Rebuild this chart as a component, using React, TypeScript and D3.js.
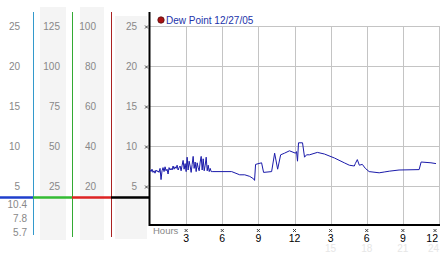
import React from "react";
import * as d3 from "d3";

const W = 442;
const H = 253;

const yTicks = [25, 20, 15, 10, 5];
const col1Labels = ["25", "20", "15", "10", "5"];
const col2Labels = ["125", "100", "75", "50", "25"];
const col3Labels = ["100", "80", "60", "40", "20"];
const col4Labels = ["25", "20", "15", "10", "5"];
const lowLabels = ["10.4", "7.8", "5.7"];

const xTickHours = [3, 6, 9, 12, 15, 18, 21, 24];
const xTickLabels = ["3", "6", "9", "12", "3", "6", "9", "12"];
const faintHours = [15, 18, 21, 24];
const faintLabels = ["15", "18", "21", "24"];

const seriesName = "Dew Point 12/27/05";

const dewMinutes = [
  0, 5, 10, 15, 20, 25, 30, 35, 40, 45,
  50, 55, 60, 65, 70, 75, 80, 85, 90, 95,
  100, 105, 110, 115, 120, 125, 130, 135, 140, 145,
  150, 155, 160, 165, 170, 175, 180, 185, 190, 195,
  200, 205, 210, 215, 220, 225, 230, 235, 240, 245,
  250, 255, 260, 265, 270, 275, 280, 285, 290, 295,
  300, 305, 310,
  407, 447, 472, 497, 516, 521, 526, 556, 566, 606,
  621, 636, 651, 670, 695, 725, 730, 735, 740, 760,
  770, 780, 795, 834, 869, 919, 968, 993, 1018, 1023,
  1033, 1043, 1058, 1073, 1092, 1142, 1167, 1192, 1241, 1341,
  1351, 1400, 1425,
];
const dewValues = [
  7.0, 6.8, 7.1, 6.7, 6.9, 6.6, 7.0, 6.8, 6.9, 6.7,
  7.2, 5.8, 6.9, 7.3, 6.8, 7.4, 6.9, 7.1, 6.5, 7.3,
  7.0, 7.2, 7.0, 7.5, 7.1, 7.4, 7.2, 7.6, 7.0, 7.3,
  7.5, 6.9, 7.6, 8.2, 7.1, 7.8, 6.8, 8.6, 7.0, 8.1,
  7.5, 6.7, 7.7, 8.7, 7.2, 8.0, 6.8, 7.9, 7.3, 6.9,
  8.0, 8.7, 7.0, 8.4, 6.9, 7.6, 8.6, 6.9, 7.6, 6.8,
  7.2, 6.8, 6.8,
  6.8, 6.4, 6.4, 6.2, 5.9, 5.7, 7.7, 7.9, 6.7, 6.8,
  9.1, 7.1, 8.9, 9.1, 9.4, 9.1, 9.3, 8.1, 10.4, 10.4,
  8.6, 8.9, 8.9, 9.2, 9.0, 8.5, 7.9, 7.6, 7.5, 7.8,
  8.3, 7.6, 7.7, 7.2, 6.8, 6.65, 6.75, 6.85, 7.0, 7.05,
  8.0, 7.9, 7.8,
];

const x = d3.scaleLinear().domain([0, 24]).range([150, 439]);
const y = d3.scaleLinear().domain([0, 25]).range([226, 26]);

const FONT = "'Liberation Sans', Arial, sans-serif";

function Cross({ cx, cy }: { cx: number; cy: number }) {
  return (
    <path
      d={`M${cx - 1.5},${cy - 1.5}L${cx + 1.5},${cy + 1.5}M${cx + 1.5},${cy - 1.5}L${cx - 1.5},${cy + 1.5}`}
      stroke="#333"
      strokeWidth={0.9}
    />
  );
}

export default function App() {
  const pts = dewMinutes.map((m, i) => [m / 60, dewValues[i]] as [number, number]);
  const line = d3
    .line<[number, number]>()
    .x((d) => x(d[0]))
    .y((d) => y(d[1]));

  const labelCols = [
    { labels: col1Labels, right: 20 },
    { labels: col2Labels, right: 60 },
    { labels: col3Labels, right: 96 },
    { labels: col4Labels, right: 137 },
  ];

  const lastIdx = xTickHours.length - 1;

  return (
    <svg
      width={W}
      height={H}
      style={{ position: "fixed", left: 0, top: 0, background: "#fff" }}
      fontFamily={FONT}
    >
      {/* grey column backgrounds */}
      <rect x={40} y={7} width={26} height={233} fill="#f4f4f4" />
      <rect x={80} y={7} width={24} height={233} fill="#f4f4f4" />
      <rect x={115} y={16} width={32} height={223} fill="#f4f4f4" />

      {/* column labels */}
      {labelCols.map((c, ci) =>
        c.labels.map((l, i) => (
          <text
            key={`${ci}-${i}`}
            x={c.right}
            y={y(yTicks[i]) + 4}
            textAnchor="end"
            fontSize={10}
            fill="#888"
          >
            {l}
          </text>
        ))
      )}
      {lowLabels.map((l, i) => (
        <text key={l} x={27} y={208 + i * 14} textAnchor="end" fontSize={10} fill="#888">
          {l}
        </text>
      ))}

      {/* colored vertical lines */}
      <line x1={33.5} x2={33.5} y1={12} y2={235} stroke="#3399cc" strokeWidth={1} />
      <line x1={72.5} x2={72.5} y1={12} y2={237} stroke="#33aa33" strokeWidth={1} />
      <line x1={111.5} x2={111.5} y1={12} y2={237} stroke="#aa2222" strokeWidth={1} />

      {/* horizontal colored line */}
      <line x1={0} x2={33} y1={197.5} y2={197.5} stroke="#1f3fcc" strokeWidth={2.5} />
      <line x1={33} x2={72} y1={197.5} y2={197.5} stroke="#33bb33" strokeWidth={2.5} />
      <line x1={72} x2={111} y1={197.5} y2={197.5} stroke="#dd2222" strokeWidth={2.5} />
      <line x1={111} x2={149} y1={197.5} y2={197.5} stroke="#000" strokeWidth={2.5} />

      {/* grid */}
      {yTicks.map((t) => (
        <line
          key={"gy" + t}
          x1={150}
          x2={x(24)}
          y1={Math.round(y(t)) + 0.5}
          y2={Math.round(y(t)) + 0.5}
          stroke="#c4c4c4"
        />
      ))}
      {xTickHours.map((h) => (
        <line
          key={"gx" + h}
          x1={Math.round(x(h)) + 0.5}
          x2={Math.round(x(h)) + 0.5}
          y1={y(25)}
          y2={224}
          stroke="#c4c4c4"
        />
      ))}

      {/* axes */}
      <line x1={149.5} x2={149.5} y1={12} y2={226} stroke="#000" strokeWidth={2} />
      <line x1={149} x2={440} y1={225} y2={225} stroke="#000" strokeWidth={2} />

      {/* y ticks */}
      {yTicks.map((t) => (
        <Cross key={"cy" + t} cx={146.5} cy={y(t) + 1} />
      ))}
      {/* x ticks */}
      {xTickHours.map((h, i) => (
        <g key={"xt" + h}>
          <Cross cx={i === lastIdx ? x(h) - 4 : x(h)} cy={230.5} />
          <text
            x={i === lastIdx ? x(h) - 1 : x(h)}
            y={242}
            textAnchor={i === lastIdx ? "end" : "middle"}
            fontSize={10.5}
            fill="#000"
          >
            {xTickLabels[i]}
          </text>
        </g>
      ))}
      {faintHours.map((h, i) => (
        <text
          key={"f" + h}
          x={i === faintHours.length - 1 ? x(h) : x(h)}
          y={252}
          textAnchor={i === faintHours.length - 1 ? "end" : "middle"}
          fontSize={10}
          fill="#e6e6e6"
        >
          {faintLabels[i]}
        </text>
      ))}
      <text x={153} y={234} fontSize={9.5} fill="#888">
        Hours
      </text>

      {/* series */}
      <path d={line(pts) || ""} fill="none" stroke="#1a1aaa" strokeWidth={1} />

      {/* legend */}
      <circle cx={161} cy={20} r={3.2} fill="#aa1111" stroke="#551111" strokeWidth={0.8} />
      <text x={166} y={23.5} fontSize={10} fill="#2233aa">
        {seriesName}
      </text>
    </svg>
  );
}
